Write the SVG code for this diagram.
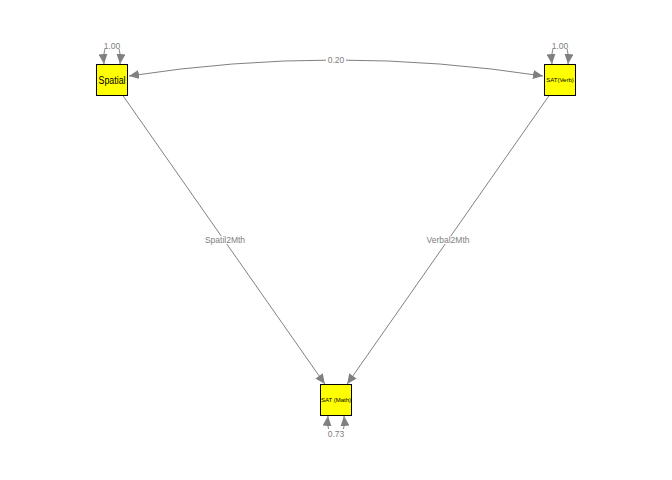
<svg xmlns="http://www.w3.org/2000/svg" width="672" height="480" viewBox="0 0 672 480">
  <style>
    .edge { fill: none; stroke: #808080; stroke-width: 1; }
    .elab { font-family: "Liberation Sans", Arial, sans-serif; font-size: 8.5px; fill: #808080; text-anchor: middle; }
    .lbg { fill: #ffffff; }
    .box { fill: #ffff00; stroke: #000000; stroke-width: 1; }
    .nlab { font-family: "Liberation Sans", Arial, sans-serif; fill: #000000; text-anchor: middle; }
  </style>
  <defs>
    <marker id="arr" markerUnits="userSpaceOnUse" markerWidth="10" markerHeight="9" viewBox="0 0 10 9" refX="10" refY="4.5" orient="auto-start-reverse">
      <path d="M0,0 L10,4.5 L0,9 z" fill="#808080"/>
    </marker>
  </defs>
  <rect width="672" height="480" fill="#ffffff"/>
  <g id="connectors">
    <g id="cov-spatial-verb">
      <path class="edge" d="M129,76 Q336,44 543,76" marker-start="url(#arr)" marker-end="url(#arr)"/>
      <rect class="lbg" x="326" y="56" width="20" height="8"/>
      <text class="elab" x="336" y="63">0.20</text>
    </g>
    <g id="var-spatial">
      <path class="edge" d="M104,64 C101,34 123,34 120,64" marker-start="url(#arr)" marker-end="url(#arr)"/>
      <rect class="lbg" x="102" y="39" width="20" height="10"/>
      <text class="elab" x="112" y="48.5">1.00</text>
    </g>
    <g id="var-verb">
      <path class="edge" d="M552,64 C549,34 571,34 568,64" marker-start="url(#arr)" marker-end="url(#arr)"/>
      <rect class="lbg" x="550" y="39" width="20" height="10"/>
      <text class="elab" x="560" y="48.5">1.00</text>
    </g>
    <g id="var-math">
      <path class="edge" d="M328,416 C325,446 347,446 344,416" marker-start="url(#arr)" marker-end="url(#arr)"/>
      <rect class="lbg" x="326" y="429" width="20" height="11"/>
      <text class="elab" x="336" y="436.5">0.73</text>
    </g>
    <g id="spatial-math">
      <path class="edge" d="M123.2,96 L324.8,384" marker-end="url(#arr)"/>
      <rect class="lbg" x="207" y="236" width="36" height="8"/>
      <text class="elab" x="225" y="243">Spatil2Mth</text>
    </g>
    <g id="verb-math">
      <path class="edge" d="M548.8,96 L347.2,384" marker-end="url(#arr)"/>
      <rect class="lbg" x="430" y="236" width="36" height="8"/>
      <text class="elab" x="448" y="243">Verbal2Mth</text>
    </g>
  </g>
  <g id="node-spatial">
    <rect class="box" x="96.5" y="64.5" width="31" height="31"/>
    <text class="nlab" x="112" y="83.5" font-size="10" textLength="27" lengthAdjust="spacingAndGlyphs">Spatial</text>
  </g>
  <g id="node-verb">
    <rect class="box" x="544.5" y="64.5" width="31" height="31"/>
    <text class="nlab" x="560" y="82" font-size="6">SAT(Verb)</text>
  </g>
  <g id="node-math">
    <rect class="box" x="320.5" y="384.5" width="31" height="31"/>
    <text class="nlab" x="336" y="402" font-size="6">SAT (Math)</text>
  </g>
</svg>
